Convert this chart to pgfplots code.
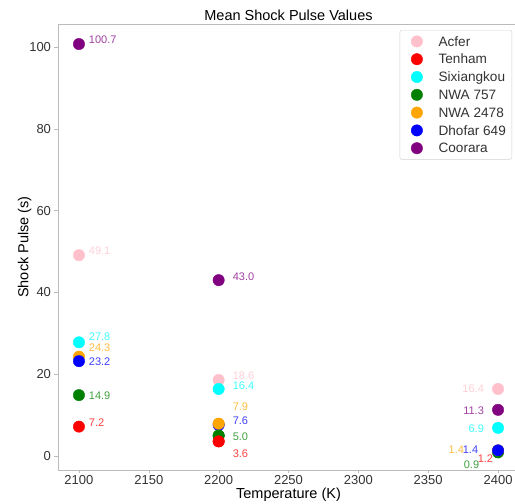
\documentclass[border=0pt]{standalone}
\usepackage{fontspec}
\setmainfont{Liberation Sans}
\usepackage{pgfplots}
\pgfplotsset{compat=1.18}

\definecolor{mplpink}{HTML}{FFC0CB}
\definecolor{mplred}{HTML}{FF0000}
\definecolor{mplcyan}{HTML}{00FFFF}
\definecolor{mplgreen}{HTML}{008000}
\definecolor{mplorange}{HTML}{FFA500}
\definecolor{mplblue}{HTML}{0000FF}
\definecolor{mplpurple}{HTML}{800080}
\definecolor{spine}{HTML}{BBBBBB}

\begin{document}
\begin{tikzpicture}
\begin{axis}[
    name=ax,
    width=461pt, height=446pt, scale only axis,
    xmin=2085, xmax=2415, ymin=-3.4, ymax=105.6,
    xtick={2100,2150,...,2400}, ytick={0,20,...,100},
    xtick pos=bottom, ytick pos=left,
    tick align=outside, major tick length=3.5pt,
    tick style={draw=spine},
    axis line style={draw=spine},
    /pgf/number format/assume math mode=true,
    /pgf/number format/1000 sep={},
    ticklabel style={font=\fontsize{13}{13}\selectfont, text=black!80},
    xticklabel style={yshift=1.5pt},
    title={Mean Shock Pulse Values},
    title style={at={(axis description cs:0.5,1)}, anchor=base, yshift=-3pt,
        font=\fontsize{14.5}{14.5}\selectfont},
    xlabel={Temperature (K)},
    xlabel style={at={(axis description cs:0.5,0)}, anchor=base, yshift=-29pt,
        font=\fontsize{14.5}{14.5}\selectfont},
    ylabel={Shock Pulse (s)},
    ylabel style={at={(axis description cs:-0.064,0.5)}, anchor=base,
        font=\fontsize{14.5}{14.5}\selectfont},
    every axis plot/.append style={only marks, mark=*, mark size=5.7pt},
    legend image code/.code={\path[draw=none] (-11pt,0pt) -- (0pt,0pt);
        \draw[#1] plot coordinates {(0pt,0pt)};},
    legend cell align=left,
    legend style={at={(axis description cs:0.985,0.9865)}, anchor=north east,
        draw=black!18, rounded corners=2pt, fill=white,
        inner xsep=6pt, inner ysep=5.5pt, row sep=6.4pt, column sep=16pt,
        nodes={inner sep=0pt, text height=9.5pt, text depth=0pt},
        font=\fontsize{13.6}{13.6}\selectfont, text=black!80},
]
\addplot[color=mplpink] coordinates {(2100,49.1) (2200,18.6) (2400,16.4)};
\addplot[color=mplred] coordinates {(2100,7.2) (2200,3.6) (2400,1.2)};
\addplot[color=mplcyan] coordinates {(2100,27.8) (2200,16.4) (2400,6.9)};
\addplot[color=mplgreen] coordinates {(2100,14.9) (2200,5.0) (2400,0.9)};
\addplot[color=mplorange] coordinates {(2100,24.3) (2200,7.9) (2400,1.4)};
\addplot[color=mplblue] coordinates {(2100,23.2) (2200,7.6) (2400,1.4)};
\addplot[color=mplpurple] coordinates {(2100,100.7) (2200,43.0) (2400,11.3)};
% overlap order at 2200 as in the reference
\addplot[color=mplorange, forget plot] coordinates {(2200,7.9)};
\addplot[color=mplgreen, forget plot] coordinates {(2200,5.0)};
\addplot[color=mplred, forget plot] coordinates {(2200,3.6)};
\legend{Acfer,Tenham,Sixiangkou,NWA 757,NWA 2478,Dhofar 649,Coorara}

\tikzset{lbl/.style={inner sep=0pt, font=\fontsize{11}{11}\selectfont, text opacity=0.75}}
% 2100
\node[lbl, anchor=west, text=mplpurple] at (axis cs:2107,101.7) {100.7};
\node[lbl, anchor=west, text=mplpink] at (axis cs:2107,50.2) {49.1};
\node[lbl, anchor=west, text=mplcyan] at (axis cs:2107,29.1) {27.8};
\node[lbl, anchor=west, text=mplorange] at (axis cs:2107,26.4) {24.3};
\node[lbl, anchor=west, text=mplblue] at (axis cs:2107,23.0) {23.2};
\node[lbl, anchor=west, text=mplgreen] at (axis cs:2107,14.8) {14.9};
\node[lbl, anchor=west, text=mplred] at (axis cs:2107,8.1) {7.2};
% 2200
\node[lbl, anchor=west, text=mplpurple] at (axis cs:2210,43.8) {43.0};
\node[lbl, anchor=west, text=mplpink] at (axis cs:2210,19.6) {18.6};
\node[lbl, anchor=west, text=mplcyan] at (axis cs:2210,17.2) {16.4};
\node[lbl, anchor=west, text=mplorange] at (axis cs:2210,12.0) {7.9};
\node[lbl, anchor=west, text=mplblue] at (axis cs:2210,8.6) {7.6};
\node[lbl, anchor=west, text=mplgreen] at (axis cs:2210,4.7) {5.0};
\node[lbl, anchor=west, text=mplred] at (axis cs:2210,0.7) {3.6};
% 2400
\node[lbl, anchor=east, text=mplpink] at (axis cs:2390,16.4) {16.4};
\node[lbl, anchor=east, text=mplpurple] at (axis cs:2390,11.2) {11.3};
\node[lbl, anchor=east, text=mplcyan] at (axis cs:2390,6.8) {6.9};
\node[lbl, anchor=east, text=mplorange] at (axis cs:2375.8,1.5) {1.4};
\node[lbl, anchor=east, text=mplblue] at (axis cs:2385.9,1.5) {1.4};
\node[lbl, anchor=east, text=mplred] at (axis cs:2396.6,-0.7) {1.2};
\node[lbl, anchor=east, text=mplgreen] at (axis cs:2386.6,-2.2) {0.9};
\end{axis}
% page = reference frame: axis box starts 58 px from the left, 34 px from the bottom
\pgfresetboundingbox
\path (ax.south west) ++(-58pt,-34pt) rectangle ++(515pt,504pt);
\end{tikzpicture}
\end{document}
